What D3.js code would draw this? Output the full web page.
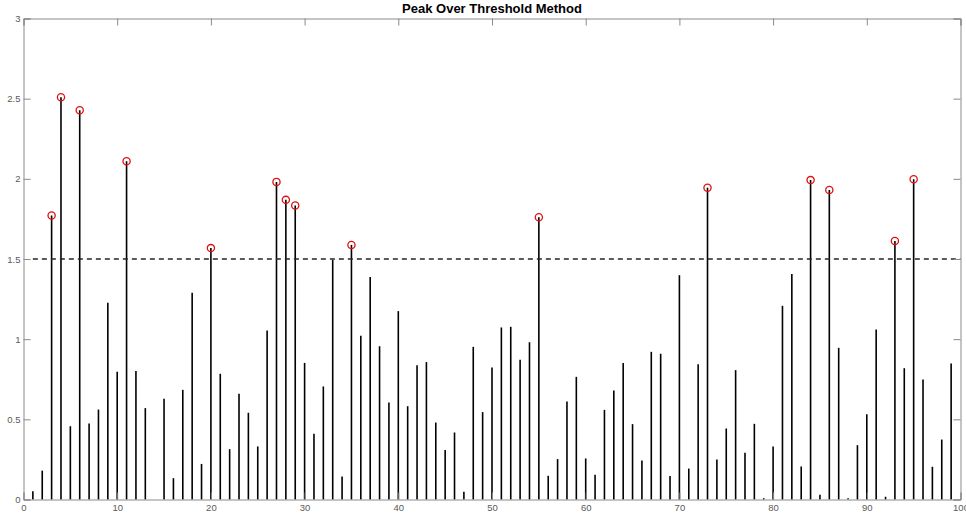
<!DOCTYPE html>
<html>
<head>
<meta charset="utf-8">
<script src="https://cdn.jsdelivr.net/npm/d3@7"></script>
<style>
  html, body { margin: 0; padding: 0; background: #fff; }
  svg { display: block; }
  .tick text { font-family: "Liberation Sans", Arial, sans-serif; }
</style>
</head>
<body>
<svg id="chart" width="966" height="517"></svg>
<script>
// Sample index 1..99 and the observed value at each index
const sampleIndex = d3.range(1, 100);
const sampleValues = [
  0.052, 0.18, 1.771, 2.509, 0.457, 2.428, 0.474, 0.561, 1.227, 0.796,
  2.110, 0.802, 0.570, 0.0, 0.628, 0.133, 0.684, 1.289, 0.222, 1.568,
  0.784, 0.314, 0.659, 0.541, 0.331, 1.054, 1.981, 1.869, 1.834, 0.852,
  0.410, 0.705, 1.495, 0.143, 1.588, 1.021, 1.387, 0.956, 0.605, 1.175,
  0.582, 0.838, 0.857, 0.480, 0.308, 0.418, 0.048, 0.952, 0.545, 0.823,
  1.073, 1.077, 0.871, 0.981, 1.761, 0.148, 0.252, 0.611, 0.765, 0.256,
  0.154, 0.559, 0.680, 0.852, 0.470, 0.243, 0.921, 0.909, 0.146, 1.399,
  0.193, 0.844, 1.944, 0.249, 0.443, 0.807, 0.291, 0.472, 0.008, 0.331,
  1.208, 1.407, 0.206, 1.992, 0.029, 1.931, 0.946, 0.008, 0.339, 0.532,
  1.060, 0.017, 1.613, 0.819, 1.998, 0.748, 0.204, 0.374, 0.848
];
const threshold = 1.5;
const xTicks = d3.range(0, 101, 10);
const yTicks = [0, 0.5, 1, 1.5, 2, 2.5, 3];
const titleText = "Peak Over Threshold Method";

const data = sampleIndex.map((x, i) => ({ x, y: sampleValues[i] }));
const peaks = data.filter(d => d.y > threshold);

const plotLeft = 23.5, plotRight = 960.5, plotTop = 18.5, plotBottom = 499.5;
const svg = d3.select("#chart");

const x = d3.scaleLinear().domain([0, 100]).range([plotLeft, plotRight]);
const y = d3.scaleLinear().domain([0, 3]).range([plotBottom, plotTop]);

const axisColor = "#8a8a8a";
const labelColor = "#5a5a5a";
const tickLen = 7;

// Stems
svg.append("g")
  .selectAll("line")
  .data(data)
  .join("line")
  .attr("x1", d => x(d.x)).attr("x2", d => x(d.x))
  .attr("y1", y(0)).attr("y2", d => y(d.y))
  .attr("stroke", "#000")
  .attr("stroke-width", 1.6);

// Threshold line
svg.append("line")
  .attr("x1", x(1)).attr("x2", x(100))
  .attr("y1", y(threshold)).attr("y2", y(threshold))
  .attr("stroke", "#262626")
  .attr("stroke-width", 1.5)
  .attr("stroke-dasharray", "5,4");

// Peaks above threshold
svg.append("g")
  .selectAll("circle")
  .data(peaks)
  .join("circle")
  .attr("cx", d => x(d.x))
  .attr("cy", d => y(d.y))
  .attr("r", 3.6)
  .attr("fill", "none")
  .attr("stroke", "#e01010")
  .attr("stroke-width", 1.3);

// Axes (box with inward ticks on all sides)
function styleAxis(g) {
  g.select(".domain").attr("stroke", axisColor).attr("stroke-width", 1);
  g.selectAll(".tick line").attr("stroke", axisColor).attr("stroke-width", 1);
  g.selectAll(".tick text").attr("fill", labelColor).attr("font-size", "9.5px");
}

svg.append("g")
  .attr("transform", `translate(0,${plotBottom})`)
  .call(d3.axisBottom(x).tickValues(xTicks).tickSize(-tickLen).tickPadding(5).tickFormat(d3.format("d")))
  .call(styleAxis);

svg.append("g")
  .attr("transform", `translate(0,${plotTop})`)
  .call(d3.axisTop(x).tickValues(xTicks).tickSize(-tickLen).tickFormat(""))
  .call(styleAxis);

svg.append("g")
  .attr("transform", `translate(${plotLeft},0)`)
  .call(d3.axisLeft(y).tickValues(yTicks).tickSize(-tickLen).tickPadding(3).tickFormat(d3.format("")))
  .call(styleAxis);

svg.append("g")
  .attr("transform", `translate(${plotRight},0)`)
  .call(d3.axisRight(y).tickValues(yTicks).tickSize(-tickLen).tickFormat(""))
  .call(styleAxis);

// Title
svg.append("text")
  .attr("x", (plotLeft + plotRight) / 2)
  .attr("y", 13)
  .attr("text-anchor", "middle")
  .attr("font-family", "Liberation Sans, Arial, sans-serif")
  .attr("font-weight", "bold")
  .attr("font-size", "13px")
  .attr("fill", "#000")
  .text(titleText);
</script>
</body>
</html>
